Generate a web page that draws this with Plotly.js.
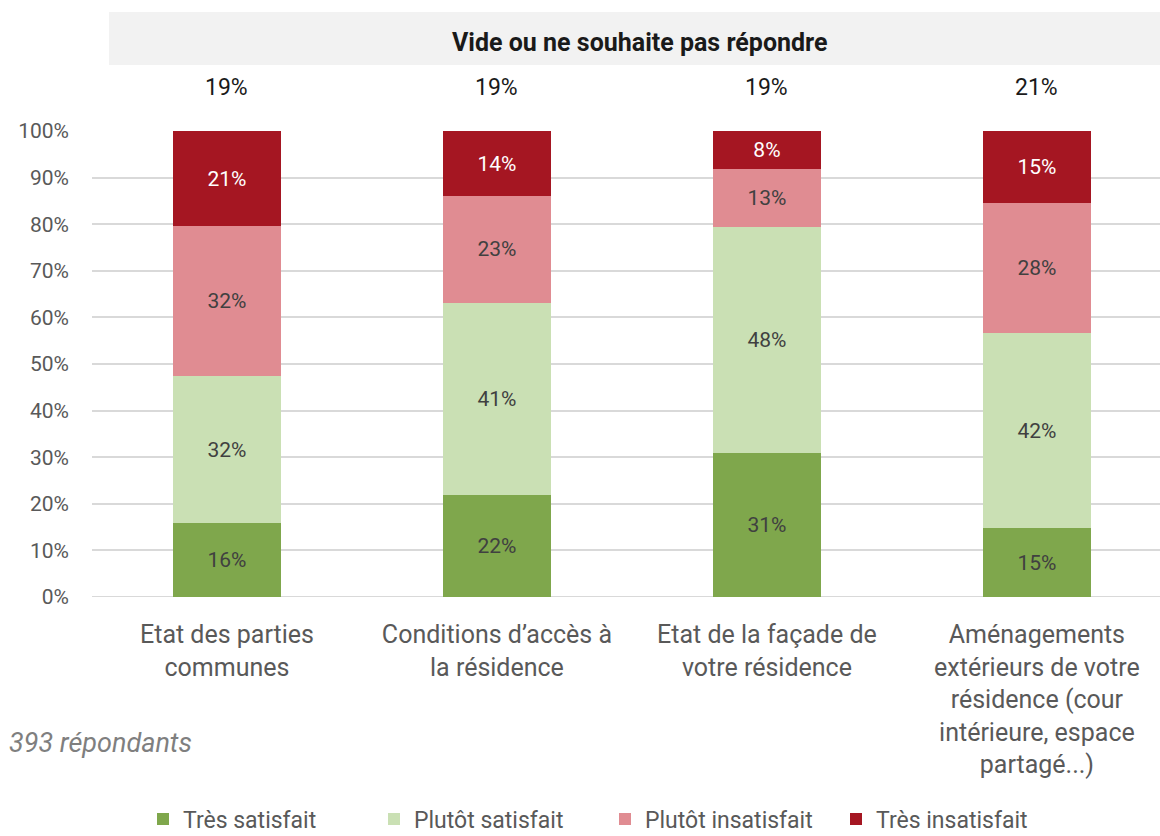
<!DOCTYPE html>
<html><head><meta charset="utf-8">
<script src="https://cdn.plot.ly/plotly-3.0.1.min.js"></script>
<style>html,body{margin:0;padding:0;background:#fff}#chart{width:1160px;height:836px}</style>
</head><body><div id="chart"></div>
<script>
const categories = ["Etat des parties<br>communes", "Conditions d’accès à<br>la résidence", "Etat de la façade de<br>votre résidence", "Aménagements<br>extérieurs de votre<br>résidence (cour<br>intérieure, espace<br>partagé...)"];
const seriesNames = ["Très satisfait", "Plutôt satisfait", "Plutôt insatisfait", "Très insatisfait"];
const tresSatisfait = [15.9, 21.9, 30.9, 14.8];
const plutotSatisfait = [31.5, 41.2, 48.5, 41.85];
const plutotInsatisfait = [32.2, 22.95, 12.45, 27.9];
const tresInsatisfait = [20.4, 13.95, 8.15, 15.45];
const labelsTresSatisfait = ["16%", "22%", "31%", "15%"];
const labelsPlutotSatisfait = ["32%", "41%", "48%", "42%"];
const labelsPlutotInsatisfait = ["32%", "23%", "13%", "28%"];
const labelsTresInsatisfait = ["21%", "14%", "8%", "15%"];
const videLabels = ["19%", "19%", "19%", "21%"];
const headerText = "Vide ou ne souhaite pas répondre";
const noteText = "393 répondants";
const yTickVals = [0,10,20,30,40,50,60,70,80,90,100];
const yTickText = ["0%","10%","20%","30%","40%","50%","60%","70%","80%","90%","100%"];

const colors = ["#7FA74C", "#CAE0B4", "#E08C92", "#A51622"];
const textColors = ["#404040", "#404040", "#404040", "#ffffff"];
const FONT = "Roboto, 'Open Sans', sans-serif";
const xIdx = [0,1,2,3];
const vals = [tresSatisfait, plutotSatisfait, plutotInsatisfait, tresInsatisfait];
const labs = [labelsTresSatisfait, labelsPlutotSatisfait, labelsPlutotInsatisfait, labelsTresInsatisfait];

const traces = vals.map((v, i) => ({
  type: "bar",
  name: seriesNames[i],
  x: xIdx,
  y: v,
  text: labs[i],
  texttemplate: "%{text}",
  textposition: "inside",
  insidetextanchor: "middle",
  textangle: 0,
  constraintext: "none",
  insidetextfont: {family: FONT, size: 21, color: textColors[i]},
  marker: {color: colors[i], line: {width: 0}},
  width: 0.4,
  hoverinfo: "skip"
}));

const annotations = [];
annotations.push({xref: "paper", yref: "paper", x: (640-92)/1068, y: (597-42)/466, text: "<b>" + headerText + "</b>", showarrow: false, font: {family: FONT, size: 25, color: "#1a1a1a"}, xanchor: "center", yanchor: "middle"});
videLabels.forEach((t, i) => annotations.push({xref: "x", yref: "paper", x: i, y: (597-87)/466, text: t, showarrow: false, font: {family: FONT, size: 23, color: "#1a1a1a"}, xanchor: "center", yanchor: "middle"}));
annotations.push({xref: "paper", yref: "paper", x: (7-92)/1068, y: (597-743)/466, text: "<i>" + noteText + "</i>", showarrow: false, font: {family: FONT, size: 27, color: "#7f7f7f"}, xanchor: "left", yanchor: "middle"});

const layout = {
  width: 1160, height: 836,
  margin: {l: 92, r: 0, t: 131, b: 239, autoexpand: false},
  paper_bgcolor: "#fff", plot_bgcolor: "#fff",
  barmode: "stack",
  font: {family: FONT, color: "#595959"},
  xaxis: {
    range: [-0.5, 3.456],
    tickvals: xIdx, ticktext: categories,
    tickfont: {family: FONT, size: 25, color: "#595959"},
    showgrid: false, zeroline: false, showline: false, ticks: "",
    ticklabelstandoff: 20,
    automargin: false,
    fixedrange: true
  },
  yaxis: {
    range: [0, 100],
    tickvals: yTickVals, ticktext: yTickText,
    tickfont: {family: FONT, size: 21, color: "#595959"},
    showgrid: true, gridcolor: "#d9d9d9", gridwidth: 2,
    zeroline: false, showline: false, ticks: "",
    ticklabelstandoff: 22,
    automargin: false,
    fixedrange: true
  },
  shapes: [
    {type: "rect", xref: "paper", yref: "paper", x0: (109-92)/1068, x1: 1, y0: (597-65)/466, y1: (597-12)/466, fillcolor: "#f2f2f2", line: {width: 0}, layer: "below"},
    {type: "line", xref: "paper", yref: "y", x0: 0, x1: 1, y0: 0, y1: 0, line: {color: "#d9d9d9", width: 2}, layer: "below"}
  ],
  annotations: annotations,
  showlegend: true,
  legend: {
    orientation: "h", x: (605-92)/1068, xanchor: "center", y: (597-819)/466, yanchor: "middle",
    font: {family: FONT, size: 23, color: "#595959"},
    traceorder: "normal", itemwidth: 30, itemclick: false,
    entrywidth: 186, entrywidthmode: "pixels"
  }
};

Plotly.newPlot("chart", traces, layout, {displayModeBar: false, staticPlot: true});
</script></body></html>
